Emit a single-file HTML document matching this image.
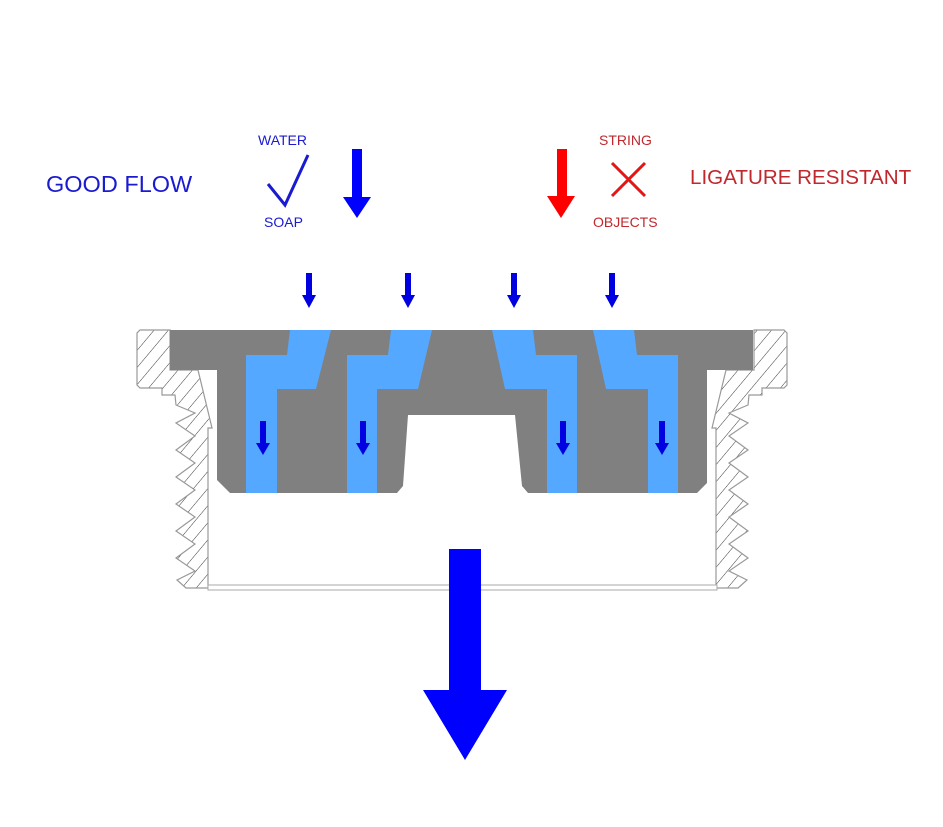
<!DOCTYPE html>
<html><head><meta charset="utf-8"><style>
html,body{margin:0;padding:0;background:#fff;}
svg{display:block;}
text{font-family:"Liberation Sans",Arial,sans-serif;}
</style></head><body>
<svg width="943" height="827" viewBox="0 0 943 827" xmlns="http://www.w3.org/2000/svg">
<defs>
<pattern id="h" patternUnits="userSpaceOnUse" width="11" height="11" patternTransform="rotate(40)">
<rect width="11" height="11" fill="#fff"/>
<line x1="0" y1="0" x2="0" y2="11" stroke="#222" stroke-width="0.9"/>
</pattern>
<path id="lh" d="M140,330 H170 V370 H198 L212,428 H208 V588 H186 L177,580 L195,571 L176,558 L195,544 L176,531 L195,517 L176,504 L195,490 L176,477 L195,463 L176,450 L195,436 L176,423 L195,413 L176,405 L175,395 H162 V388 H140 L137,385 V333 Z"/>
<clipPath id="cl"><use href="#lh"/></clipPath>
<clipPath id="cr"><use href="#lh" transform="translate(924,0) scale(-1,1)"/></clipPath>
</defs>
<rect width="943" height="827" fill="#fff"/>

<rect x="130" y="325" width="90" height="270" fill="url(#h)" clip-path="url(#cl)"/>
<rect x="700" y="325" width="95" height="270" fill="url(#h)" clip-path="url(#cr)"/>
<use href="#lh" fill="none" stroke="#999" stroke-width="1.2"/>
<use href="#lh" transform="translate(924,0) scale(-1,1)" fill="none" stroke="#999" stroke-width="1.2"/>
<rect x="208" y="585" width="509" height="5" fill="#fff" stroke="#aaa" stroke-width="1"/>

<path d="M170,330 H753 V370 H707 V483 L697,493 H528 L522,486 L515,415 H408 L403,486 L397,493 H230 L217,480 V370 H170 Z" fill="#808080"/>
<g fill="#55a8ff">
<path d="M290,330 H331 L316,389 H277 V493 H246 V355 H287 Z"/>
<path d="M391,330 H432 L418,389 H377 V493 H347 V355 H388 Z"/>
<path d="M492,330 H533 L536,355 H577 V493 H547 V389 H505 Z"/>
<path d="M593,330 H634 L637,355 H678 V493 H648 V389 H606 Z"/>
</g>

<g fill="#0000e0">
<path d="M260,421 H266 V443 H270 L263,455 L256,443 H260 Z"/>
<path d="M360,421 H366 V443 H370 L363,455 L356,443 H360 Z"/>
<path d="M560,421 H566 V443 H570 L563,455 L556,443 H560 Z"/>
<path d="M659,421 H665 V443 H669 L662,455 L655,443 H659 Z"/>
<path d="M306,273 H312 V295 H316 L309,308 L302,295 H306 Z"/>
<path d="M405,273 H411 V295 H415 L408,308 L401,295 H405 Z"/>
<path d="M511,273 H517 V295 H521 L514,308 L507,295 H511 Z"/>
<path d="M609,273 H615 V295 H619 L612,308 L605,295 H609 Z"/>
</g>

<path d="M449,549 H481 V690 H507 L465,760 L423,690 H449 Z" fill="#0000ff"/>

<text x="46" y="192" font-size="23.5" fill="#1a1ad0">GOOD FLOW</text>
<text x="258" y="145" font-size="14" fill="#1a1ad0">WATER</text>
<text x="264" y="227" font-size="14" fill="#1a1ad0">SOAP</text>
<path d="M268,184 L285,205 L308,155" fill="none" stroke="#1a1ad0" stroke-width="3"/>
<path d="M352,149 H362 V197 H371 L357,218 L343,197 H352 Z" fill="#0000ff"/>

<path d="M557,149 H567 V196 H575 L561,218 L547,196 H557 Z" fill="#ff0000"/>
<text x="599" y="145" font-size="14" fill="#c0282d">STRING</text>
<text x="593" y="227" font-size="14" fill="#c0282d">OBJECTS</text>
<path d="M612,163 L645,196 M645,163 L612,196" stroke="#e01818" stroke-width="3"/>
<text x="690" y="184" font-size="20.6" fill="#c0282d">LIGATURE RESISTANT</text>
</svg>
</body></html>
